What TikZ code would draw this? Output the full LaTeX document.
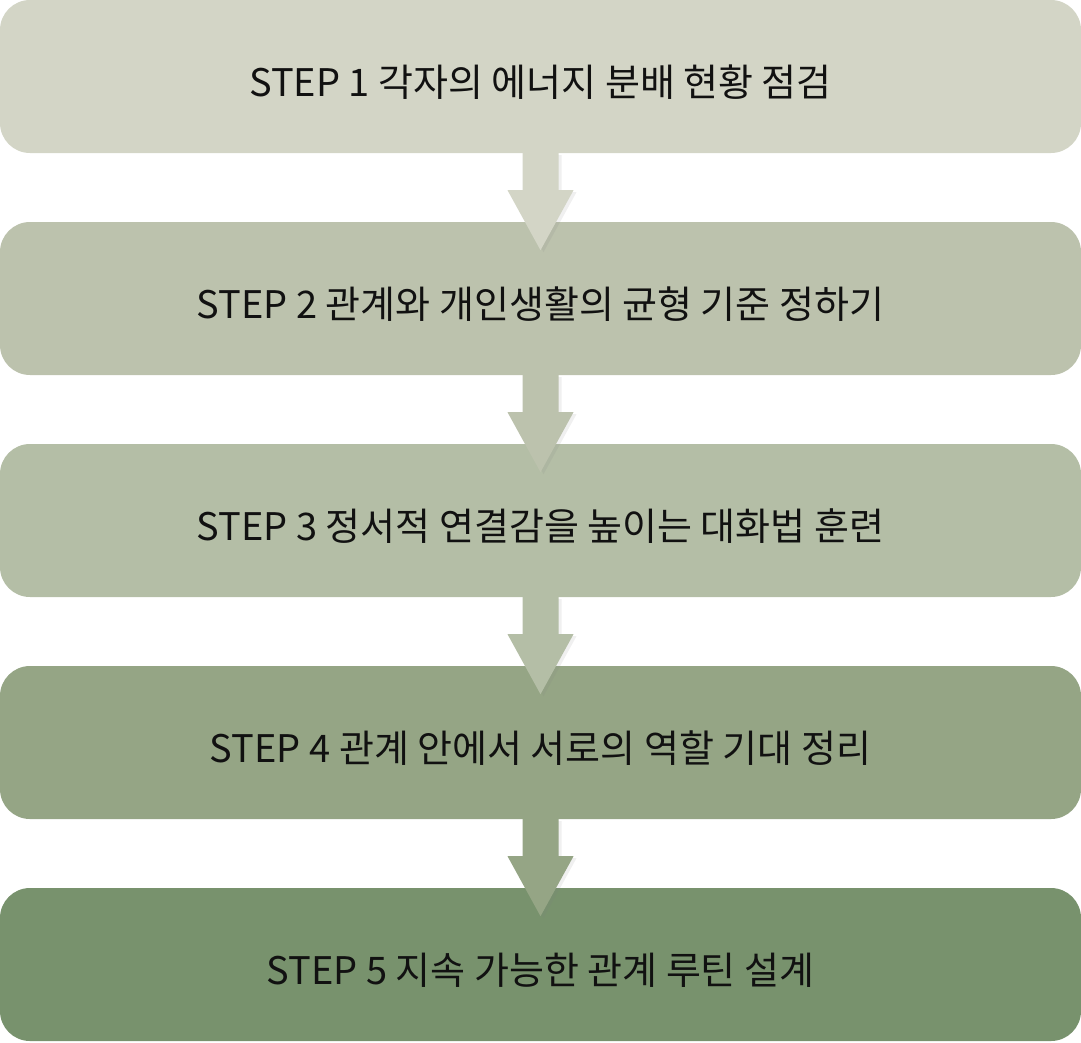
\documentclass[tikz,border=0pt]{standalone}
\usepackage{fontspec}
\setmainfont{Noto Sans CJK KR}
\usetikzlibrary{shadows}
\definecolor{cA}{HTML}{D3D5C6}
\definecolor{cB}{HTML}{BCC2AD}
\definecolor{cC}{HTML}{B4BEA6}
\definecolor{cD}{HTML}{95A585}
\definecolor{cE}{HTML}{78926D}
\definecolor{txt}{HTML}{111111}
\newcommand{\steptext}[1]{\raisebox{-19.5pt}[0pt][0pt]{#1}}
\tikzset{
  stepbox/.style={rounded corners=30pt, minimum width=1081pt, minimum height=153pt, inner sep=0pt, font=\fontsize{38}{44}\selectfont, text=txt},
  flowarrow/.style={draw=none, drop shadow={shadow xshift=3pt, shadow yshift=-2pt, opacity=0.12}}
}
\begin{document}
\begin{tikzpicture}[x=1pt,y=-1pt]
\useasboundingbox (0,0) rectangle (1081,1042);
\node[stepbox, fill=cA] (s1) at (540.5,76.5) {\steptext{STEP 1 각자의 에너지 분배 현황 점검}};
\node[stepbox, fill=cB] (s2) at (540.5,298.5) {\steptext{STEP 2 관계와 개인생활의 균형 기준 정하기}};
\node[stepbox, fill=cC] (s3) at (540.5,520.5) {\steptext{STEP 3 정서적 연결감을 높이는 대화법 훈련}};
\node[stepbox, fill=cD] (s4) at (540.5,742.5) {\steptext{STEP 4 관계 안에서 서로의 역할 기대 정리}};
\node[stepbox, fill=cE] (s5) at (540.5,964.5) {\steptext{STEP 5 지속 가능한 관계 루틴 설계}};
\foreach \a/\b/\c in {s1/s2/cA, s2/s3/cB, s3/s4/cC, s4/s5/cD}{
  \fill[\c, flowarrow]
    ([xshift=-18pt]\a.south) -- ([xshift=-18pt,yshift=-37pt]\a.south)
    -- ([xshift=-33pt,yshift=-37pt]\a.south) -- ([yshift=-97pt]\a.south)
    -- ([xshift=33pt,yshift=-37pt]\a.south) -- ([xshift=18pt,yshift=-37pt]\a.south)
    -- ([xshift=18pt]\a.south) -- cycle;
}
\end{tikzpicture}
\end{document}
